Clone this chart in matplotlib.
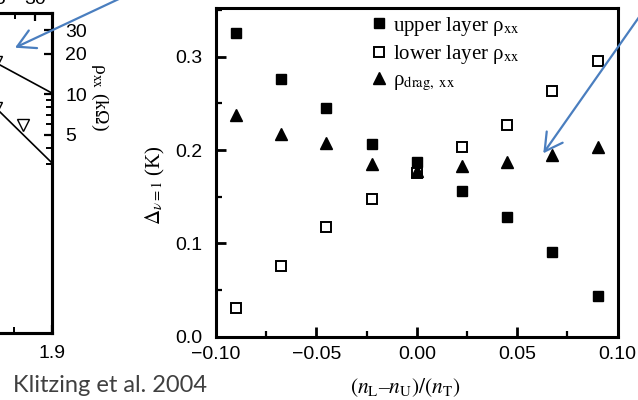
import matplotlib
matplotlib.use('Agg')
import matplotlib.pyplot as plt
from matplotlib.ticker import MultipleLocator, FixedLocator, NullFormatter, FixedFormatter
from matplotlib.patches import FancyArrowPatch
from matplotlib.transforms import IdentityTransform

# ---------------- data ----------------
x_vals = [-0.09, -0.0675, -0.045, -0.0225, 0.0, 0.0225, 0.045, 0.0675, 0.09]
upper_rho = [0.326, 0.276, 0.245, 0.2065, 0.1876, 0.1564, 0.1286, 0.0911, 0.0439]
lower_rho = [0.0304, 0.0758, 0.1172, 0.1475, 0.1754, 0.2033, 0.2268, 0.2636, 0.2954]
drag_rho = [0.2375, 0.2172, 0.2072, 0.185, 0.178, 0.1832, 0.1869, 0.1947, 0.2036]
series_labels = [r'upper layer ρ$_{\rm xx}$', r'lower layer ρ$_{\rm xx}$', r'ρ$_{\rm drag,\ xx}$']
x_ticks = [-0.10, -0.05, 0.00, 0.05, 0.10]
x_ticklabels = ['\u22120.10', '\u22120.05', '0.00', '0.05', '0.10']
y_ticks = [0.0, 0.1, 0.2, 0.3]
y_ticklabels = ['0.0', '0.1', '0.2', '0.3']

# partial inset (left, cropped) panel
left_line_x = [1.7632, 1.9]
left_line1 = [26.8, 10.2]
left_line2 = [17.7, 3.07]
left_tri_x = [1.8614]
left_tri_y = [5.9]
left_edge_x = [1.826, 1.826]
left_edge_y = [17.3, 7.9]
left_rticks = [5, 10, 20, 30]
left_rticklabels = ['5', '10', '20', '30']
left_rminor = [3, 4, 6, 7, 8, 9]
left_top_ticks = [25, 30]
left_top_ticklabels = ['25', '30']
left_bottom_ticks = [1.9]
left_bottom_ticklabels = ['1.9']

W, H = 638, 400
fig = plt.figure(figsize=(W / 100, H / 100), dpi=100)
plt.rcParams['mathtext.fontset'] = 'stix'

def rect(l, t, r, b):
    return [l / W, 1 - b / H, (r - l) / W, (b - t) / H]

SANS = 'Liberation Sans'
SERIF = 'Liberation Serif'

# ---------------- main axes ----------------
ax = fig.add_axes(rect(216, 8.3, 617.7, 336.7))
ax.plot(x_vals, upper_rho, 's', color='black', ms=6.6, mec='black', mew=1.0, label=series_labels[0], zorder=3)
ax.plot(x_vals, lower_rho, 's', color='black', mfc='white', ms=6.6, mec='black', mew=1.4, label=series_labels[1], zorder=3)
ax.plot(x_vals, drag_rho, '^', color='black', ms=9, label=series_labels[2], zorder=3)
ax.set_xlim(-0.10, 0.10)
ax.set_ylim(0.0, 0.352)
ax.set_xticks(x_ticks)
ax.set_xticklabels(x_ticklabels, family=SANS, fontsize=14)
ax.set_yticks(y_ticks)
ax.set_yticklabels(y_ticklabels, family=SANS, fontsize=14)
ax.xaxis.set_minor_locator(MultipleLocator(0.025))
ax.yaxis.set_minor_locator(MultipleLocator(0.05))
ax.tick_params(axis='both', which='major', direction='in', length=7, width=2, top=False, right=False)
ax.tick_params(axis='both', which='minor', direction='in', length=4, width=1.6, top=False, right=False)
ax.tick_params(axis='y', pad=9.5)
ax.tick_params(axis='x', pad=7)
for s in ax.spines.values():
    s.set_linewidth(2.2)

leg = ax.legend(loc='upper left', bbox_to_anchor=((362 - 216) / 401.7, 1 + 2 / 328.4), frameon=False,
                prop={'family': SERIF, 'size': 15}, handlelength=0.8, handletextpad=0.3,
                labelspacing=0.25, borderaxespad=0.2, borderpad=0.2)

fig.text(405 / W, 1 - 388 / H, r'$(n_{\rm L}$–$n_{\rm U})/(n_{\rm T})$', ha='center', va='center',
         family=SERIF, fontsize=15.5)
fig.text(155 / W, 1 - 185 / H, r'$\Delta_{\nu=1}$ (K)', ha='center', va='center', rotation=90,
         family=SERIF, fontsize=15)

# ---------------- left cropped panel ----------------
ax2 = fig.add_axes(rect(-300, 13.3, 52, 332.7))
ax2.set_yscale('log')
ax2.plot(left_line_x, left_line1, '-', color='black', lw=1.2)
ax2.plot(left_line_x, left_line2, '-', color='black', lw=1.2)
ax2.plot(left_tri_x, left_tri_y, 'v', mfc='white', mec='black', ms=9, mew=1.0)
ax2.plot(left_edge_x, left_edge_y, 'v', mfc='white', mec='black', ms=9, mew=1.0)
ax2.set_xlim(1.9 - 352 / 760, 1.9)
ax2.set_ylim(0.166, 40.2)
ax2.yaxis.tick_right()
ax2.yaxis.set_major_locator(FixedLocator(left_rticks))
ax2.yaxis.set_major_formatter(FixedFormatter(left_rticklabels))
ax2.yaxis.set_minor_locator(FixedLocator(left_rminor))
ax2.yaxis.set_minor_formatter(NullFormatter())
ax2.xaxis.set_major_locator(FixedLocator(left_bottom_ticks))
ax2.xaxis.set_major_formatter(FixedFormatter(left_bottom_ticklabels))
ax2.xaxis.set_minor_locator(MultipleLocator(0.05))
ax2.tick_params(axis='both', which='major', direction='in', length=6, width=1.6, labelsize=14)
ax2.tick_params(axis='both', which='minor', direction='in', length=4, width=1.4)
ax2.tick_params(axis='y', which='both', left=False, right=True, labelleft=False, labelright=True, pad=9.5)
ax2.tick_params(axis='x', pad=9)
for lab in ax2.get_xticklabels() + ax2.get_yticklabels():
    lab.set_family(SANS)
for s in ax2.spines.values():
    s.set_linewidth(2.2)

ax2t = ax2.twiny()
ax2t.set_xlim(32.1 - 352 / 8, 32.1)
ax2t.xaxis.set_major_locator(FixedLocator(left_top_ticks))
ax2t.xaxis.set_major_formatter(FixedFormatter(left_top_ticklabels))
ax2t.xaxis.set_minor_locator(MultipleLocator(2.5))
ax2t.tick_params(axis='x', which='major', direction='in', length=6, width=1.6, labelsize=14, pad=3.5)
ax2t.tick_params(axis='x', which='minor', direction='in', length=4, width=1.4)
for lab in ax2t.get_xticklabels():
    lab.set_family(SANS)
for s in ax2t.spines.values():
    s.set_linewidth(2.2)

fig.text(100 / W, 1 - 97 / H, r'ρ$_{\rm xx}$ (kΩ)', ha='center', va='center', rotation=270,
         family=SERIF, fontsize=14)

# ---------------- annotations ----------------
fig.text(13 / W, 1 - 385 / H, 'Klitzing et al. 2004', ha='left', va='center',
         family='Lato', fontsize=17, color='#404040')

arrow_color = '#4a7ebf'
for start, tip in [((138, H + 10), (15, H - 47.7)), ((650, H - 1.5), (543.3, H - 153.3))]:
    arr = FancyArrowPatch(start, tip, transform=IdentityTransform(),
                          arrowstyle='->,head_length=0.45,head_width=0.25', color=arrow_color,
                          lw=1.6, mutation_scale=28, shrinkA=0, shrinkB=0, zorder=10)
    fig.add_artist(arr)

fig.savefig('out.png', dpi=100)
